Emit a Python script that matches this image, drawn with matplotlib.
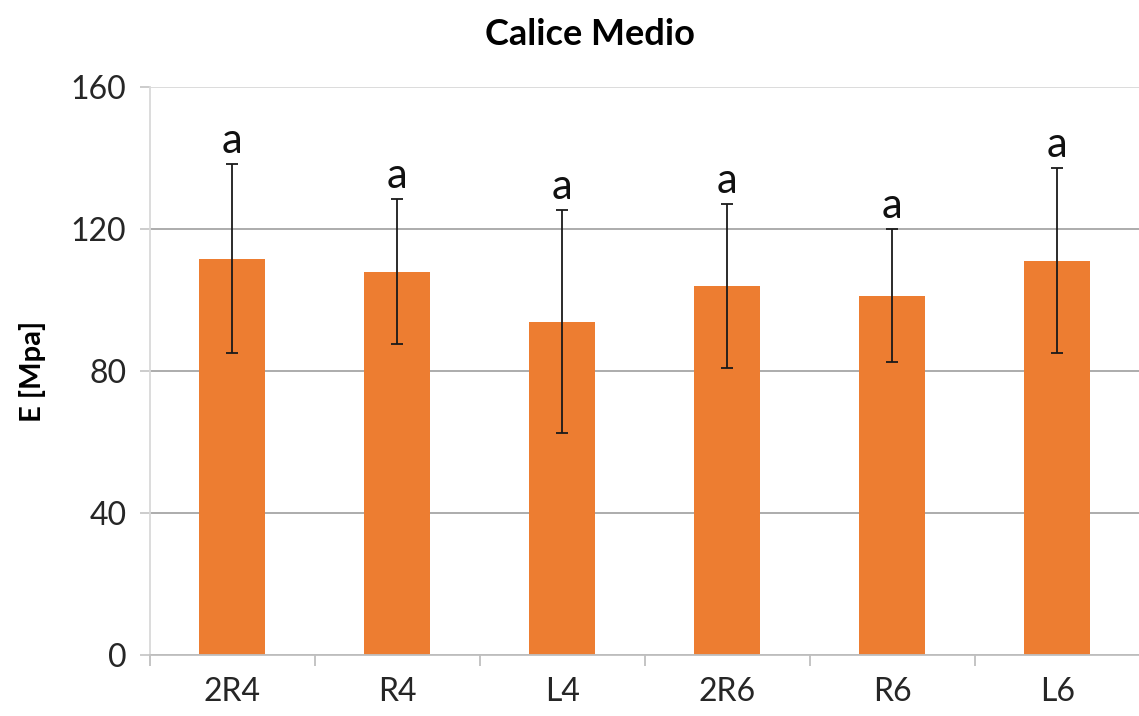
import numpy as np
import matplotlib
matplotlib.use('agg')
import matplotlib.pyplot as plt

plt.rcParams['font.family'] = ['Lato', 'DejaVu Sans']

# mean modulus per sample group and its std deviation
groups = ['2R4', 'R4', 'L4', '2R6', 'R6', 'L6']
modulus = [111.6, 108.0, 93.9, 103.9, 101.2, 111.1]
std_dev = [26.6, 20.4, 31.4, 23.0, 18.7, 26.0]
letters = ['a', 'a', 'a', 'a', 'a', 'a']

fig = plt.figure(figsize=(11.39, 7.16), dpi=100)
ax = fig.add_axes([0.1317, 0.0852, 0.869, 0.7933])

x = np.arange(len(groups))
ax.bar(x, modulus, width=0.4, color='#ED7D31', zorder=2)
ax.errorbar(x, modulus, yerr=std_dev, fmt='none', ecolor='#1a1a1a',
            elinewidth=1.3, capsize=4, capthick=1.3, zorder=3)

# significance letters just above each whisker
for xi, m, s, lab in zip(x, modulus, std_dev, letters):
    ax.annotate(lab, (xi, m + s), xytext=(0, 3), textcoords='offset points',
                ha='center', va='bottom', fontsize=30, color='#111111')

ax.set_xlim(-0.5, len(groups) - 0.5)
ax.set_ylim(0, 160)
ax.set_yticks([0, 40, 80, 120, 160])
ax.set_xticks(x)
ax.set_xticklabels(groups)
ax.set_xticks(np.arange(-0.5, len(groups)), minor=True)

ax.yaxis.grid(True, color='#a6a6a6', linewidth=1.3, zorder=0)
ax.get_ygridlines()[-1].set_color('#d9d9d9')
ax.set_axisbelow(True)

for side in ['top', 'right']:
    ax.spines[side].set_visible(False)
ax.spines['left'].set_color('#d9d9d9')
ax.spines['left'].set_linewidth(1.3)
ax.spines['bottom'].set_color('#bfbfbf')
ax.spines['bottom'].set_linewidth(1.3)

ax.tick_params(axis='x', which='major', length=0, pad=16, labelsize=23,
               labelcolor='#262626')
ax.tick_params(axis='x', which='minor', length=8, width=1.3, color='#bfbfbf')
ax.tick_params(axis='y', length=7, width=1.3, color='#c8c8c8', pad=10,
               labelsize=23, labelcolor='#262626')

ax.set_ylabel('E [Mpa]', fontsize=21, fontweight='bold', labelpad=18)
fig.suptitle('Calice Medio', x=0.518, y=0.975, fontsize=26, fontweight='bold')

fig.savefig('out.png', dpi=100)
